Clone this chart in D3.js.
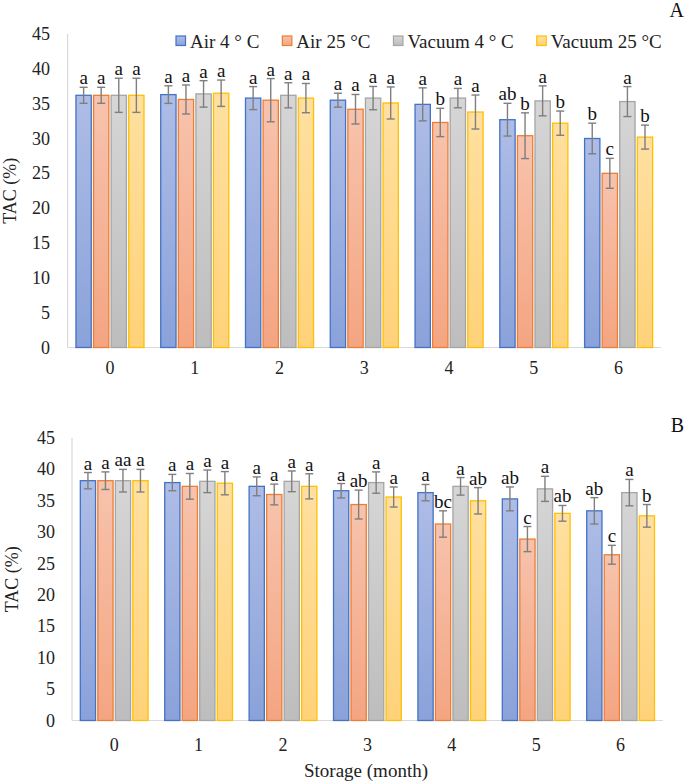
<!DOCTYPE html>
<html><head><meta charset="utf-8">
<script src="https://cdn.jsdelivr.net/npm/d3@7"></script>
<style>
html,body{margin:0;padding:0;background:#fff;}
svg{display:block;}
</style></head>
<body>
<svg id="chart" width="685" height="783"></svg>
<script>
// ---------- DATA ----------
const months = ["0","1","2","3","4","5","6"];
const seriesNames = ["Air 4 ° C","Air 25 °C","Vacuum 4 ° C","Vacuum 25 °C"];
const yTicks = [0,5,10,15,20,25,30,35,40,45];

// Panel A
const aAir4   = [36.2,36.3,35.8,35.5,34.9,32.7,30.0];
const aAir25  = [36.2,35.6,35.5,34.2,32.3,30.4,25.0];
const aVac4   = [36.2,36.4,36.2,35.8,35.8,35.4,35.3];
const aVac25  = [36.2,36.5,35.8,35.1,33.8,32.2,30.2];
const aAir4Err  = [1.15,1.26,1.65,1.0,2.37,2.35,2.2];
const aAir25Err = [1.15,2.08,3.1,2.12,2.03,3.28,2.15];
const aVac4Err  = [2.45,1.9,1.8,1.67,1.39,2.15,2.15];
const aVac25Err = [2.45,1.89,2.1,2.3,2.44,1.74,1.72];
const aAir4Sig  = ["a","a","a","a","a","ab","b"];
const aAir25Sig = ["a","a","a","a","b","b","c"];
const aVac4Sig  = ["a","a","a","a","a","a","a"];
const aVac25Sig = ["a","a","a","a","a","b","b"];

// Panel B
const bAir4   = [38.2,37.9,37.3,36.6,36.3,35.3,33.4];
const bAir25  = [38.2,37.3,36.0,34.4,31.3,28.9,26.4];
const bVac4   = [38.2,38.1,38.1,37.9,37.3,36.9,36.3];
const bVac25  = [38.2,37.8,37.3,35.6,35.0,33.0,32.6];
const bAir4Err  = [1.3,1.3,1.5,1.15,1.3,1.9,2.1];
const bAir25Err = [1.4,2.05,1.65,2.3,2.1,2.0,1.5];
const bVac4Err  = [1.8,1.8,1.65,1.7,1.4,2.0,2.1];
const bVac25Err = [1.8,1.85,2.0,1.6,2.1,1.25,1.8];
const bAir4Sig  = ["a","a","a","a","a","ab","ab"];
const bAir25Sig = ["a","a","a","ab","bc","c","c"];
const bVac4Sig  = ["aa","a","a","a","a","a","a"];
const bVac25Sig = ["a","a","a","a","ab","ab","b"];

// ---------- STYLE ----------
const fills  = [["#aebde6","#8aa2da"],["#f7c3ad","#f4a582"],["#d6d6d6","#bdbdbd"],["#ffe0a1","#ffd279"]];
const strokes = ["#4472c4","#ed7d31","#a5a5a5","#ffc000"];
const FF = "'Liberation Serif', 'Times New Roman', serif";
const FONT = 18;

const svg = d3.select("#chart");
const defs = svg.append("defs");
fills.forEach((f,i)=>{
  const g = defs.append("linearGradient").attr("id","g"+i).attr("x1",0).attr("y1",0).attr("x2",0).attr("y2",1);
  g.append("stop").attr("offset","0%").attr("stop-color",f[0]);
  g.append("stop").attr("offset","100%").attr("stop-color",f[1]);
});

function txt(sel, size){ return sel.append("text").style("font-family",FF).style("font-size",size+"px"); }

function drawPanel(p){
  const gp = svg.append("g");
  const x0 = d3.scaleBand().domain(months).range([p.left,p.right]).padding(0);
  const x1 = d3.scaleBand().domain(d3.range(4)).range([0,x0.bandwidth()]).paddingInner(0.13).paddingOuter(0.475);
  const y = d3.scaleLinear().domain([0,45]).range([p.bottom,p.top]);

  gp.append("line").attr("x1",p.left).attr("x2",p.left).attr("y1",y(45)).attr("y2",y(0)).attr("stroke","#d9d9d9").attr("stroke-width",1.2);
  gp.append("line").attr("x1",p.left).attr("x2",p.right).attr("y1",y(0)).attr("y2",y(0)).attr("stroke","#d9d9d9").attr("stroke-width",1.2);

  yTicks.forEach(d=>{
    txt(gp,FONT).attr("x",p.tickRight).attr("y",y(d)+6).attr("text-anchor","end").attr("fill","#222").text(d);
  });
  months.forEach(d=>{
    txt(gp,FONT).attr("x",x0(d)+x0.bandwidth()/2).attr("y",y(0)+p.xLabOff).attr("text-anchor","middle").attr("fill","#222").text(d);
  });
  txt(gp,FONT).attr("transform",`translate(${p.titleX},${(y(0)+y(45))/2}) rotate(-90)`)
    .attr("text-anchor","middle").attr("fill","#222").text("TAC (%)");
  txt(gp,20).attr("x",684).attr("y",p.letterY).attr("text-anchor","end").attr("fill","#111").text(p.letter);

  p.vals.forEach((vals,si)=>{
    const gs = gp.append("g");
    const bw = x1.bandwidth();
    months.forEach((m,mi)=>{
      const v = vals[mi], e = p.errs[si][mi];
      const bx = x0(m)+x1(si);
      gs.append("rect").attr("x",bx).attr("y",y(v)).attr("width",bw).attr("height",y(0)-y(v))
        .attr("fill",`url(#g${si})`).attr("stroke",strokes[si]).attr("stroke-width",1.3);
      const cx = bx+bw/2;
      gs.append("line").attr("x1",cx).attr("x2",cx).attr("y1",y(v+e)).attr("y2",y(v-e)).attr("stroke","#7f7f7f").attr("stroke-width",1.4);
      [v+e,v-e].forEach(t=>{
        gs.append("line").attr("x1",cx-4).attr("x2",cx+4).attr("y1",y(t)).attr("y2",y(t)).attr("stroke","#7f7f7f").attr("stroke-width",1.4);
      });
      txt(gs,19).attr("x",cx).attr("y",y(v+e)-3).attr("text-anchor","middle").attr("fill","#111").text(p.sigs[si][mi]);
    });
  });
}

drawPanel({left:67.6,right:661,top:34,bottom:347.5,tickRight:50,xLabOff:26,titleX:16,letter:"A",letterY:17,
  vals:[aAir4,aAir25,aVac4,aVac25],errs:[aAir4Err,aAir25Err,aVac4Err,aVac25Err],sigs:[aAir4Sig,aAir25Sig,aVac4Sig,aVac25Sig]});
drawPanel({left:72,right:662.8,top:438,bottom:720.5,tickRight:55,xLabOff:30,titleX:18,letter:"B",letterY:432,
  vals:[bAir4,bAir25,bVac4,bVac25],errs:[bAir4Err,bAir25Err,bVac4Err,bVac25Err],sigs:[bAir4Sig,bAir25Sig,bVac4Sig,bVac25Sig]});

txt(svg,19).attr("x",366).attr("y",777).attr("text-anchor","middle").attr("fill","#222").text("Storage (month)");

const lg = svg.append("g");
let lx = 176;
seriesNames.forEach((n,i)=>{
  lg.append("rect").attr("x",lx).attr("y",36).attr("width",9.5).attr("height",9.5)
    .attr("fill",`url(#g${i})`).attr("stroke",strokes[i]).attr("stroke-width",1.2);
  const t = txt(lg,19).attr("x",lx+14).attr("y",47.5).attr("fill","#222").text(n);
  lx += 14 + t.node().getComputedTextLength() + 23;
});
</script>
</body></html>
